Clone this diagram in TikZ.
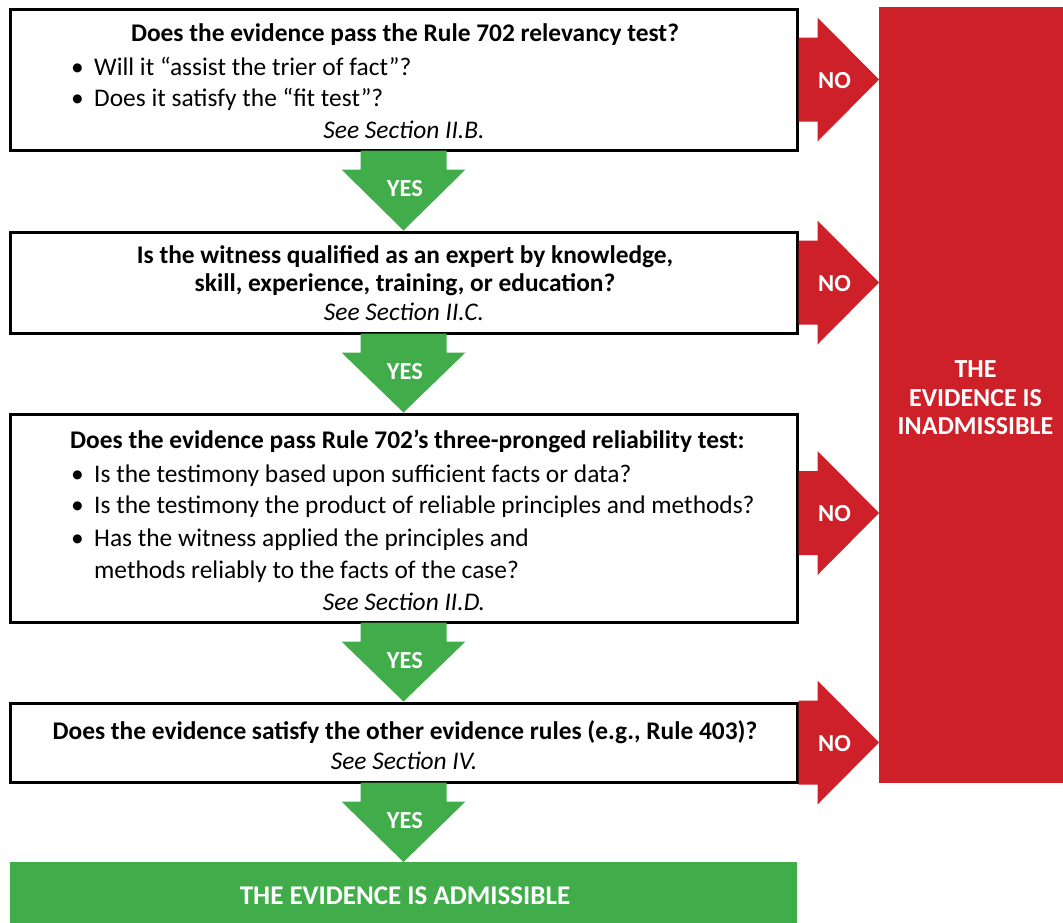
\documentclass[tikz,border=0pt]{standalone}
\usepackage{fontspec}
\setmainfont{Carlito}
\usetikzlibrary{calc}
\definecolor{ggreen}{RGB}{64,173,74}
\definecolor{rred}{RGB}{206,32,41}
\begin{document}
\begin{tikzpicture}[x=1pt,y=-1pt,
  qbox/.style={draw=black,line width=3pt,fill=white,minimum width=787pt,inner sep=0pt},
  ttl/.style={font=\fontsize{25.4}{30}\selectfont\bfseries,inner sep=0pt,anchor=base},
  ttlw/.style={font=\fontsize{25.4}{30}\selectfont\bfseries,inner sep=0pt,anchor=base west},
  body/.style={font=\fontsize{25.4}{30}\selectfont,inner sep=0pt,anchor=base west},
  see/.style={font=\fontsize{25.4}{30}\selectfont\itshape,inner sep=0pt,anchor=base},
  lab/.style={font=\fontsize{24.5}{28}\selectfont\bfseries,text=white,inner sep=0pt},
  big/.style={font=\fontsize{26}{28.5}\selectfont\bfseries,text=white,inner sep=0pt,align=center},
  bigg/.style={font=\fontsize{27}{30}\selectfont\bfseries,text=white,inner sep=0pt}]
\useasboundingbox (0,0) rectangle (1063,922);

% result boxes
\node[fill=rred,minimum width=184pt,minimum height=776pt,inner sep=0pt,outer sep=0pt] (red) at (971,395) {};
\node[big] (redtxt) at (975.5,398) {THE\\EVIDENCE IS\\INADMISSIBLE};
\node[fill=ggreen,minimum width=787pt,minimum height=62pt,inner sep=0pt,outer sep=0pt] (grn) at (403.5,893) {};
\node[bigg] (grntxt) at (405,896) {THE EVIDENCE IS ADMISSIBLE};

% question boxes
\node[qbox,minimum height=141pt] (b1) at (403.5,79.5) {};
\node[qbox,minimum height=101pt] (b2) at (403.5,282.5) {};
\node[qbox,minimum height=208pt] (b3) at (403.5,518) {};
\node[qbox,minimum height=79pt] (b4) at (403.5,742.5) {};

% green YES arrows
\foreach \a/\b/\n in {b1/b2/y1,b2/b3/y2,b3/b4/y3,b4/grn/y4}{
  \fill[ggreen] ($(\a.south)+(-43,-1)$) -- ($(\a.south)+(-43,18)$) -- ($(\a.south)+(-62,18)$)
     -- (\b.north) -- ($(\a.south)+(62,18)$) -- ($(\a.south)+(43,18)$) -- ($(\a.south)+(43,-1)$) -- cycle;
  \node[lab] (\n) at ($(\a.south)+(1.5,37)$) {YES};
}

% red NO arrows
\foreach \a/\d/\n in {b1/0/n1,b2/0/n2,b3/-5/n3,b4/0/n4}{
  \coordinate (s\n) at ($(\a.east)+(0,\d)$);
  \fill[rred] ($(s\n)+(0,-42)$) -- ($(s\n)+(19,-42)$) -- ($(s\n)+(19,-62)$) -- (s\n -| red.west)
     -- ($(s\n)+(19,62)$) -- ($(s\n)+(19,42)$) -- ($(s\n)+(0,42)$) -- cycle;
  \node[lab] (\n) at ($(s\n)+(36,1)$) {NO};
}

% box 1 text
\node[ttl] (t1) at (405,41) {Does the evidence pass the Rule 702 relevancy test?};
\node[body] (t1a) at (71,75) {•};
\node[body] (t1b) at (94,75) {Will it “assist the trier of fact”?};
\node[body] (t1c) at (71,106) {•};
\node[body] (t1d) at (94,106) {Does it satisfy the “fit test”?};
\node[see] (t1e) at (404,138) {See Section II.B.};

% box 2 text
\node[ttl] (t2) at (405,263) {Is the witness qualified as an expert by knowledge,};
\node[ttl] (t2a) at (405,291) {skill, experience, training, or education?};
\node[see] (t2b) at (404,320) {See Section II.C.};

% box 3 text
\node[ttlw] (t3) at (70,448) {Does the evidence pass Rule 702’s three-pronged reliability test:};
\node[body] (t3a) at (71,482) {•};
\node[body] (t3b) at (94,482) {Is the testimony based upon sufficient facts or data?};
\node[body] (t3c) at (71,513) {•};
\node[body] (t3d) at (94,513) {Is the testimony the product of reliable principles and methods?};
\node[body] (t3e) at (71,546) {•};
\node[body] (t3f) at (94,546) {Has the witness applied the principles and};
\node[body] (t3g) at (94,578) {methods reliably to the facts of the case?};
\node[see] (t3h) at (404,610) {See Section II.D.};

% box 4 text
\node[ttl] (t4) at (405,739) {Does the evidence satisfy the other evidence rules (e.g., Rule 403)?};
\node[see] (t4a) at (404,769) {See Section IV.};
\end{tikzpicture}
\end{document}
